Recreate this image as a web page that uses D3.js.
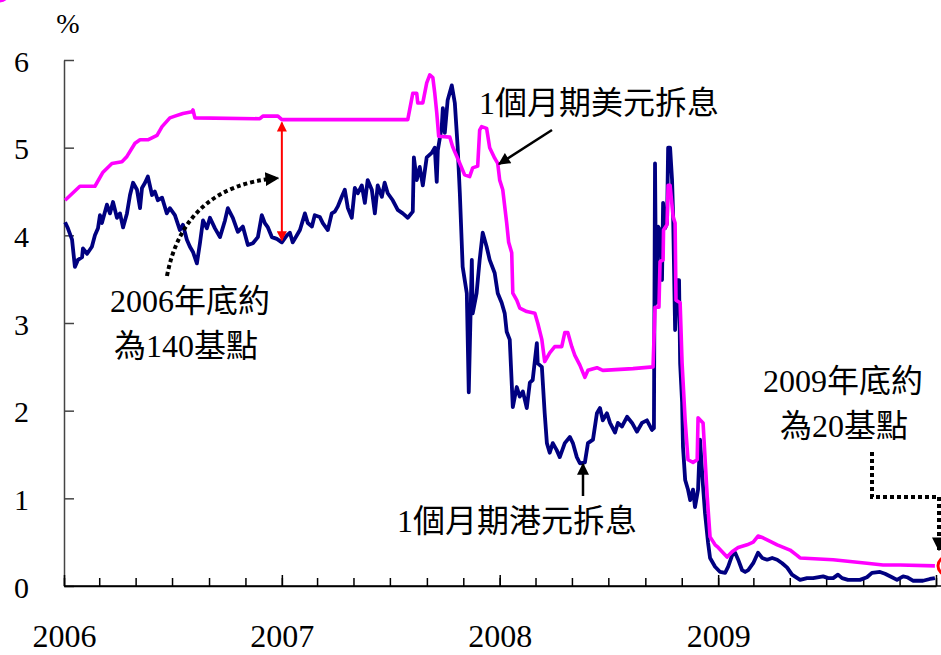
<!DOCTYPE html>
<html><head><meta charset="utf-8">
<script src="https://cdn.jsdelivr.net/npm/d3@7"></script>
<style>
html,body{margin:0;padding:0;background:#fff;}
svg{display:block;}
text{font-family:"Liberation Serif","Times New Roman","Noto Sans CJK TC",serif;fill:#000;}
.cjk{font-family:"Liberation Serif","Noto Sans CJK TC",serif;}
</style></head>
<body>
<svg id="chart" width="941" height="655"></svg>
<script>
// ---- data (decimal years, %) ----
const usdTimes = [2006.005,2006.073,2006.142,2006.179,2006.220,2006.266,2006.289,2006.326,2006.349,2006.385,2006.427,2006.450,2006.486,2006.509,2006.546,2006.587,2006.592,2006.601,2006.899,2006.913,2006.982,2007.000,2007.578,2007.601,2007.619,2007.624,2007.647,2007.665,2007.679,2007.693,2007.702,2007.711,2007.720,2007.771,2007.784,2007.817,2007.839,2007.862,2007.876,2007.899,2007.908,2007.917,2007.940,2007.954,2007.977,2007.991,2008.000,2008.014,2008.032,2008.041,2008.055,2008.060,2008.078,2008.092,2008.124,2008.161,2008.174,2008.193,2008.206,2008.229,2008.252,2008.284,2008.298,2008.312,2008.330,2008.344,2008.367,2008.390,2008.404,2008.445,2008.472,2008.610,2008.702,2008.711,2008.729,2008.734,2008.748,2008.750,2008.766,2008.771,2008.780,2008.794,2008.803,2008.807,2008.826,2008.835,2008.849,2008.862,2008.885,2008.904,2008.908,2008.931,2008.950,2008.963,2008.986,2009.000,2009.041,2009.064,2009.092,2009.133,2009.161,2009.183,2009.206,2009.239,2009.271,2009.330,2009.362,2009.376,2009.528,2009.683,2009.757,2009.835,2009.995];
const usdValues = [4.40,4.56,4.56,4.72,4.82,4.84,4.90,5.05,5.09,5.09,5.14,5.24,5.34,5.36,5.39,5.41,5.43,5.34,5.33,5.36,5.36,5.32,5.32,5.62,5.62,5.51,5.51,5.74,5.83,5.80,5.62,5.40,5.13,5.12,5.01,4.82,4.69,4.67,4.77,4.79,5.20,5.24,5.22,5.00,4.88,4.82,4.63,4.52,4.14,3.92,3.80,3.34,3.26,3.17,3.13,3.11,3.00,2.81,2.56,2.66,2.73,2.73,2.89,2.89,2.73,2.63,2.52,2.38,2.46,2.49,2.46,2.48,2.50,3.18,3.18,3.70,3.72,4.06,4.12,4.57,4.57,4.21,4.14,3.26,3.23,2.54,1.89,1.44,1.41,1.44,1.92,1.86,1.02,0.56,0.47,0.44,0.33,0.39,0.44,0.47,0.50,0.57,0.55,0.51,0.47,0.41,0.35,0.32,0.30,0.26,0.24,0.24,0.23];

const hkdTimes = [2006.005,2006.018,2006.037,2006.050,2006.064,2006.083,2006.087,2006.106,2006.128,2006.142,2006.156,2006.165,2006.174,2006.197,2006.211,2006.225,2006.243,2006.257,2006.271,2006.289,2006.303,2006.317,2006.335,2006.349,2006.358,2006.372,2006.385,2006.404,2006.417,2006.431,2006.450,2006.472,2006.486,2006.509,2006.532,2006.546,2006.564,2006.578,2006.592,2006.610,2006.624,2006.638,2006.656,2006.670,2006.693,2006.716,2006.739,2006.752,2006.775,2006.798,2006.821,2006.844,2006.867,2006.890,2006.908,2006.922,2006.936,2006.954,2006.977,2007.000,2007.023,2007.037,2007.050,2007.069,2007.083,2007.106,2007.119,2007.138,2007.151,2007.174,2007.188,2007.211,2007.229,2007.243,2007.257,2007.275,2007.289,2007.303,2007.321,2007.335,2007.349,2007.367,2007.381,2007.394,2007.413,2007.427,2007.440,2007.459,2007.472,2007.486,2007.509,2007.532,2007.555,2007.578,2007.601,2007.606,2007.619,2007.633,2007.647,2007.665,2007.688,2007.702,2007.711,2007.716,2007.734,2007.739,2007.748,2007.761,2007.780,2007.794,2007.807,2007.817,2007.830,2007.849,2007.858,2007.872,2007.876,2007.894,2007.908,2007.922,2007.940,2007.954,2007.977,2007.991,2008.009,2008.023,2008.032,2008.046,2008.060,2008.078,2008.092,2008.106,2008.124,2008.138,2008.151,2008.170,2008.174,2008.193,2008.206,2008.216,2008.229,2008.243,2008.261,2008.275,2008.298,2008.321,2008.335,2008.353,2008.367,2008.390,2008.404,2008.427,2008.445,2008.459,2008.472,2008.491,2008.505,2008.528,2008.541,2008.560,2008.583,2008.606,2008.628,2008.651,2008.674,2008.697,2008.706,2008.711,2008.716,2008.725,2008.734,2008.743,2008.748,2008.757,2008.766,2008.771,2008.780,2008.789,2008.794,2008.803,2008.812,2008.821,2008.826,2008.835,2008.839,2008.849,2008.862,2008.872,2008.885,2008.894,2008.908,2008.917,2008.931,2008.940,2008.954,2008.963,2008.986,2009.009,2009.032,2009.046,2009.064,2009.078,2009.092,2009.110,2009.124,2009.138,2009.161,2009.183,2009.202,2009.225,2009.248,2009.271,2009.294,2009.317,2009.339,2009.376,2009.408,2009.436,2009.482,2009.505,2009.528,2009.550,2009.569,2009.596,2009.651,2009.683,2009.706,2009.743,2009.766,2009.798,2009.821,2009.849,2009.867,2009.894,2009.940,2009.972,2009.995];
const hkdValues = [4.15,4.08,3.95,3.64,3.72,3.75,3.85,3.79,3.87,4.00,4.08,4.23,4.14,4.35,4.25,4.38,4.20,4.25,4.09,4.25,4.46,4.60,4.52,4.31,4.54,4.60,4.67,4.46,4.50,4.40,4.43,4.25,4.31,4.23,4.06,4.12,3.95,3.87,3.81,3.68,3.91,4.17,4.08,4.20,4.08,3.98,4.17,4.31,4.20,4.04,4.10,3.89,3.91,3.98,4.23,4.14,4.09,3.98,3.96,3.92,4.00,4.03,3.92,4.00,4.06,4.25,4.14,4.10,4.23,4.21,4.14,4.06,4.25,4.27,4.33,4.44,4.52,4.31,4.20,4.54,4.48,4.57,4.37,4.63,4.52,4.25,4.57,4.44,4.60,4.48,4.40,4.29,4.25,4.20,4.27,4.89,4.63,4.78,4.57,4.89,4.94,5.00,4.61,4.97,5.24,5.45,5.17,5.54,5.71,5.51,5.01,4.48,3.64,3.34,2.21,3.72,3.11,3.34,3.72,4.03,3.87,3.72,3.57,3.34,3.23,3.11,2.90,2.81,2.04,2.27,2.16,2.22,2.03,2.32,2.35,2.77,2.54,2.50,1.97,1.63,1.52,1.63,1.55,1.47,1.63,1.70,1.63,1.47,1.40,1.41,1.63,1.67,1.97,2.03,1.89,1.97,1.86,1.75,1.86,1.82,1.93,1.86,1.76,1.86,1.89,1.78,1.80,4.82,3.23,4.10,4.06,3.49,4.37,4.08,4.14,5.00,5.00,4.63,4.21,2.92,3.49,3.49,2.54,2.09,1.59,1.21,1.10,0.98,1.10,0.90,1.10,1.67,1.13,0.83,0.49,0.32,0.22,0.16,0.15,0.22,0.35,0.38,0.30,0.18,0.16,0.18,0.26,0.38,0.32,0.30,0.32,0.30,0.26,0.21,0.13,0.07,0.09,0.09,0.11,0.09,0.09,0.13,0.09,0.07,0.07,0.10,0.15,0.16,0.14,0.10,0.07,0.11,0.10,0.06,0.06,0.08,0.09];

const yTicks = [0,1,2,3,4,5,6];
const yearLabels = ["2006","2007","2008","2009"];
const unitLabel = "%";
const usdLabel = "1個月期美元拆息";
const hkdLabel = "1個月期港元拆息";
const note2006 = ["2006年底約","為140基點"];
const note2009 = ["2009年底約","為20基點"];

// ---- helpers ----
function toDate(t){
  const y = Math.floor(t);
  const a = new Date(y,0,1), b = new Date(y+1,0,1);
  return new Date(+a + (t-y)*(b-a));
}

const svg = d3.select("#chart");
const x = d3.scaleTime().domain([new Date(2006,0,1), new Date(2010,0,1)]).range([64, 936]);
const y = d3.scaleLinear().domain([0,6]).range([586, 60]);

// defs: arrow markers
const defs = svg.append("defs");
function marker(id, color, w, h){
  defs.append("marker").attr("id", id).attr("viewBox","0 0 10 10")
    .attr("refX", 9).attr("refY", 5).attr("markerUnits","userSpaceOnUse")
    .attr("markerWidth", w).attr("markerHeight", h).attr("orient","auto-start-reverse")
    .append("path").attr("d","M0,0 L10,5 L0,10 Z").attr("fill", color);
}
marker("arrBlack","#000",14,12);
marker("arrRed","#ff0000",12,10);
marker("arrDot","#000",14,14);

// axes
const yAxis = d3.axisLeft(y).tickValues(yTicks).tickFormat(d3.format("d"))
  .tickSizeInner(-10).tickSizeOuter(0).tickPadding(35);
const gy = svg.append("g").attr("transform","translate(64,0)").call(yAxis);
gy.selectAll("path,line").attr("stroke","#444").attr("stroke-width",1.5);
gy.selectAll("text").attr("font-size",30).attr("dy","0.37em");

const xMinor = d3.axisBottom(x).ticks(d3.timeMonth.every(2)).tickFormat("")
  .tickSizeInner(-8).tickSizeOuter(0);
const gx = svg.append("g").attr("transform","translate(0,586)").call(xMinor);
gx.selectAll("path,line").attr("stroke","#000").attr("stroke-width",1.5);

const xMajor = d3.axisBottom(x).ticks(d3.timeYear.every(1))
  .tickFormat(d => { const s = d3.timeFormat("%Y")(d); return yearLabels.includes(s) ? s : ""; })
  .tickSizeInner(-11).tickSizeOuter(0).tickPadding(38);
const gx2 = svg.append("g").attr("transform","translate(0,586)").call(xMajor);
gx2.select("path").remove();
gx2.selectAll("line").attr("stroke","#000").attr("stroke-width",1.5);
gx2.selectAll("text").attr("font-size",32);

svg.append("line").attr("x1",64).attr("x2",941).attr("y1",586).attr("y2",586)
  .attr("stroke","#000").attr("stroke-width",1.5);

svg.append("text").attr("x",68).attr("y",33).attr("text-anchor","middle")
  .attr("font-size",28).text(unitLabel);

// lines
const line = d3.line().x(d => x(toDate(d[0]))).y(d => y(d[1]));
const hkd = hkdTimes.map((t,i)=>[t,hkdValues[i]]);
const usd = usdTimes.map((t,i)=>[t,usdValues[i]]);
svg.append("path").datum(hkd).attr("d",line).attr("fill","none")
  .attr("stroke","#000080").attr("stroke-width",3.8).attr("stroke-linejoin","round");
svg.append("path").datum(usd).attr("d",line).attr("fill","none")
  .attr("stroke","#ff00ff").attr("stroke-width",3.6).attr("stroke-linejoin","round");

// annotations
const t2007 = toDate(2007.0);
svg.append("line").attr("x1",x(t2007)).attr("x2",x(t2007))
  .attr("y1",y(5.32)+3).attr("y2",y(3.92)-2)
  .attr("stroke","#ff0000").attr("stroke-width",2)
  .attr("marker-start","url(#arrRed)").attr("marker-end","url(#arrRed)");

svg.append("path").attr("d","M167,276 Q184,186 278,178").attr("fill","none")
  .attr("stroke","#000").attr("stroke-width",4).attr("stroke-dasharray","4,3")
  .attr("marker-end","url(#arrDot)");

svg.append("line").attr("x1",552).attr("y1",130).attr("x2",499).attr("y2",164)
  .attr("stroke","#000").attr("stroke-width",2.5).attr("marker-end","url(#arrBlack)");

svg.append("line").attr("x1",583).attr("y1",496).attr("x2",583).attr("y2",464)
  .attr("stroke","#000").attr("stroke-width",2.5).attr("marker-end","url(#arrBlack)");

svg.append("path").attr("d","M872,452 V497 H939 V550").attr("fill","none")
  .attr("stroke","#000").attr("stroke-width",4).attr("stroke-dasharray","4,3")
  .attr("marker-end","url(#arrDot)");

// edge markers
svg.append("circle").attr("cx",947).attr("cy",y(0.23)).attr("r",9)
  .attr("fill","#fff").attr("stroke","#ff0000").attr("stroke-width",3);
svg.append("ellipse").attr("cx",0).attr("cy",-7).attr("rx",8).attr("ry",8)
  .attr("fill","none").attr("stroke","#ff00ff").attr("stroke-width",3);

// texts
function cjk(txt, cx, by){
  svg.append("text").attr("class","cjk").attr("x",cx).attr("y",by)
    .attr("text-anchor","middle").attr("font-size",32).text(txt);
}
cjk(usdLabel, 599, 114);
cjk(hkdLabel, 517, 532);
cjk(note2006[0], 190, 312);
cjk(note2006[1], 186, 357);
cjk(note2009[0], 843, 392);
cjk(note2009[1], 844, 437);
</script>
</body></html>
